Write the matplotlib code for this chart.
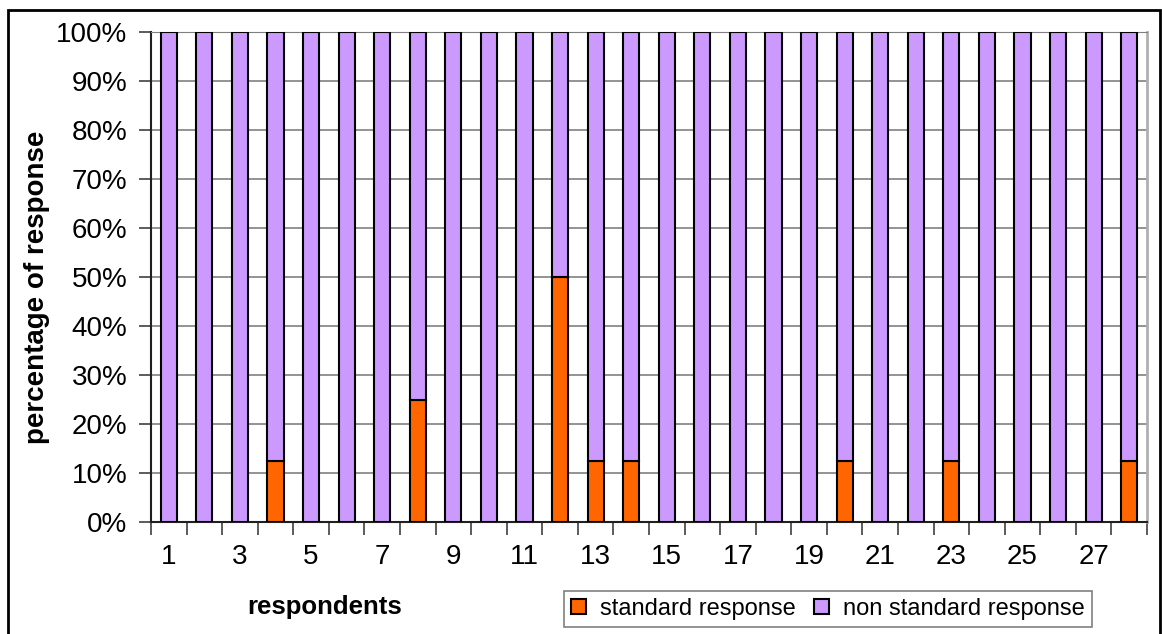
import numpy as np
import matplotlib.pyplot as plt
from matplotlib.patches import Rectangle, Patch

plt.rcParams['font.family'] = ['Liberation Sans', 'DejaVu Sans']

# respondents 1..28, share of standard vs non standard answers (%)
respondents = np.arange(1, 29)
standard = [0, 0, 0, 12.5, 0, 0, 0, 25, 0, 0, 0, 50, 12.5, 12.5,
            0, 0, 0, 0, 0, 12.5, 0, 0, 12.5, 0, 0, 0, 0, 12.5]
non_standard = [100 - v for v in standard]
y_ticks = list(range(0, 101, 10))
x_labels = [str(i) for i in range(1, 29, 2)]

c_std = '#FF6600'
c_non = '#CC99FF'

fig = plt.figure(figsize=(11.62, 6.34), dpi=100)
ax = fig.add_axes([151 / 1162, 1 - 522 / 634, 996 / 1162, 490 / 634])

ax.bar(respondents, standard, width=0.45, color=c_std, edgecolor='black', linewidth=1.5, zorder=3)
ax.bar(respondents, non_standard, bottom=standard, width=0.45, color=c_non,
       edgecolor='black', linewidth=1.5, zorder=3)

ax.set_xlim(0.5, 28.5)
ax.set_ylim(0, 100)
ax.set_yticks(y_ticks)
ax.set_yticklabels([f'{v}%' for v in y_ticks])
ax.yaxis.grid(True, color='#808080', linewidth=1.2, zorder=0)
ax.tick_params(axis='y', length=9, width=1.2, color='#404040', pad=8, labelsize=20)

# category boundaries get the tick marks, odd respondents get the labels
ax.set_xticks(np.arange(0.5, 29, 1))
ax.set_xticklabels([])
ax.set_xticks(np.arange(1, 29, 2), minor=True)
ax.set_xticklabels(x_labels, minor=True)
ax.tick_params(axis='x', which='major', length=9, width=1.2, color='#404040')
ax.tick_params(axis='x', which='minor', length=0, pad=16, labelsize=20)

ax.spines['left'].set_color('#202020')
ax.spines['bottom'].set_color('#202020')
ax.spines['left'].set_linewidth(1.5)
ax.spines['bottom'].set_linewidth(1.5)
ax.spines['top'].set_color('#808080')
ax.spines['right'].set_color('#B0B0B0')
ax.spines['right'].set_linewidth(2)

fig.text(37 / 1162, 1 - 287 / 634, 'percentage of response', rotation=90,
         fontsize=20, fontweight='bold', ha='center', va='center')
fig.text(325 / 1162, 1 - 607 / 634, 'respondents', fontsize=18.5,
         fontweight='bold', ha='center', va='center')

handles = [Patch(facecolor=c_std, edgecolor='black', linewidth=1.5),
           Patch(facecolor=c_non, edgecolor='black', linewidth=1.5)]
leg = fig.legend(handles, ['standard response', 'non standard response'],
                 loc='center', bbox_to_anchor=(828 / 1162, 1 - 609 / 634),
                 ncol=2, fontsize=17, frameon=True, fancybox=False,
                 handlelength=0.6, handleheight=0.6, handletextpad=0.6,
                 columnspacing=0.8, borderpad=0.3, borderaxespad=0)
leg.get_frame().set_edgecolor('#606060')
leg.get_frame().set_linewidth(1.2)

# outer chart border (bottom edge runs off the image)
fig.patches.append(Rectangle((8 / 1162, -0.05), (1160 - 8) / 1162, 1.05 - 10 / 634,
                             transform=fig.transFigure, fill=False,
                             edgecolor='black', linewidth=2))

fig.savefig('out.png', dpi=100)
